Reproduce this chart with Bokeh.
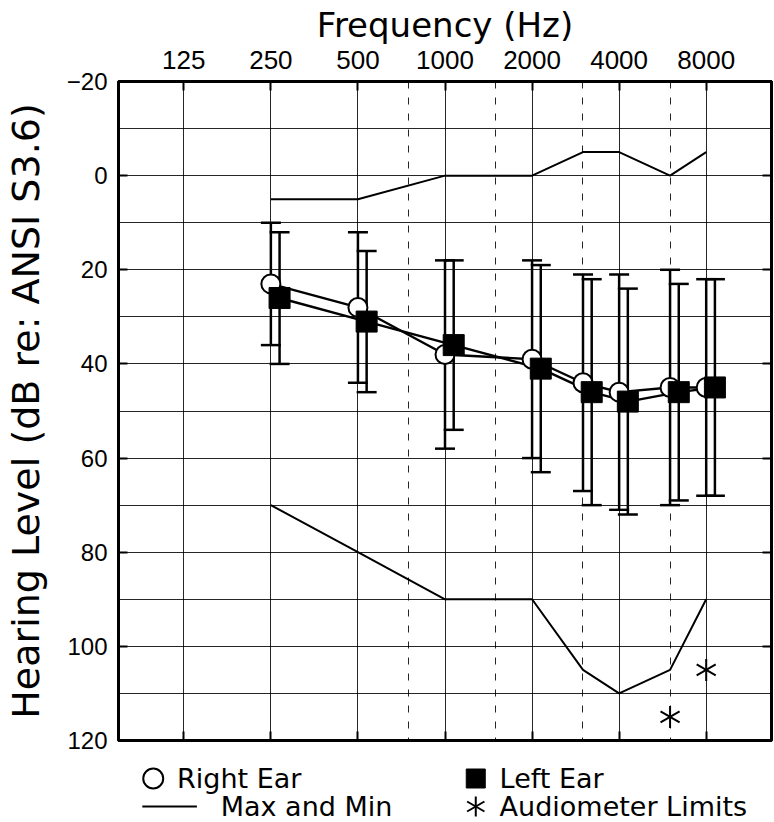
import numpy as np
from bokeh.plotting import figure
from bokeh.models import (Range1d, FixedTicker, LinearAxis, LogAxis, Grid,
                          Whisker, ColumnDataSource, TeeHead, PrintfTickFormatter)
from bokeh.layouts import column
from bokeh.embed import file_html
from bokeh.resources import INLINE
from bokeh.core.properties import value

# ---------------- data ----------------
freqs = [250, 500, 1000, 2000, 3000, 4000, 6000, 8000]
right_ear = [23, 28, 38, 39, 44, 46, 45, 45]
right_upper = [10, 12, 18, 18, 21, 21, 20, 22]
right_lower = [36, 44, 58, 60, 67, 71, 70, 68]
left_ear = [26, 31, 36, 41, 46, 48, 46, 45]
left_upper = [12, 16, 18, 19, 22, 24, 23, 22]
left_lower = [40, 46, 54, 63, 70, 72, 69, 68]
min_level = [5, 5, 0, 0, -5, -5, 0, -5]
max_level = [70, 80, 90, 90, 105, 110, 105, 90]
limit_freqs = [6000, 8000]
limit_levels = [115, 105]
octave_ticks = [125, 250, 500, 1000, 2000, 4000, 8000]
half_octave_lines = [750, 1500, 3000, 6000]
level_ticks = list(range(-20, 121, 20))
level_grid = list(range(-20, 121, 10))
legend_labels = ["Right Ear", "Left Ear", "Max and Min", "Audiometer Limits"]

TICK_FONT = "Liberation Sans"
TEXT_FONT = "DejaVu Sans"

W, H_MAIN, H_LEG = 774, 758, 64
BL, BR = 113, 3

# small horizontal offset (in octaves) of the left-ear symbols
left_x = list(np.array(freqs) * 2 ** 0.1)

x_lo = octave_ticks[0] / 2 ** 0.75
x_hi = octave_ticks[-1] * 2 ** 0.75

p = figure(width=W, height=H_MAIN, x_axis_type="log", x_axis_location="above",
           x_range=Range1d(x_lo, x_hi), y_range=Range1d(120, -20),
           output_backend="svg", toolbar_location=None,
           min_border_left=BL, min_border_right=BR, min_border_top=81,
           min_border_bottom=H_MAIN - 740)
p.outline_line_color = "black"
p.outline_line_width = 3
p.background_fill_color = "white"
p.border_fill_color = "white"

# top axis
xa = p.xaxis[0]
xa.ticker = FixedTicker(ticks=octave_ticks, minor_ticks=[])
xa.formatter = PrintfTickFormatter(format="%d")
xa.axis_label = "Frequency (Hz)"
xa.axis_label_text_font = TEXT_FONT
xa.axis_label_text_font_size = "34px"
xa.axis_label_text_font_style = "normal"
xa.axis_label_text_color = "black"
xa.axis_label_standoff = 3
xa.major_label_text_font = TICK_FONT
xa.major_label_text_font_size = "26px"
xa.major_label_text_color = "black"
xa.major_label_standoff = 13
xa.major_tick_in = 9
xa.major_tick_out = 0
xa.major_tick_line_width = 2
xa.minor_tick_line_color = None
xa.axis_line_width = 3

# left axis
ya = p.yaxis[0]
ya.ticker = FixedTicker(ticks=level_ticks, minor_ticks=[])
ya.major_label_overrides = {-20: "\u221220"}
ya.axis_label = "Hearing Level (dB re: ANSI S3.6)"
ya.axis_label_text_font = TEXT_FONT
ya.axis_label_text_font_size = "38px"
ya.axis_label_text_font_style = "normal"
ya.axis_label_text_color = "black"
ya.axis_label_standoff = 16
ya.major_label_text_font = TICK_FONT
ya.major_label_text_font_size = "24px"
ya.major_label_text_color = "black"
ya.major_label_standoff = 11
ya.major_tick_in = 9
ya.major_tick_out = 0
ya.major_tick_line_width = 2
ya.minor_tick_line_color = None
ya.axis_line_width = 3

# bottom & right axes: inward ticks only, no labels
bx = LogAxis(ticker=FixedTicker(ticks=octave_ticks, minor_ticks=[]),
             major_label_text_font_size="1px", major_label_text_color=None,
             major_label_standoff=0,
             major_tick_in=9, major_tick_out=0, major_tick_line_width=2,
             minor_tick_line_color=None, axis_line_width=3)
p.add_layout(bx, "below")
ry = LinearAxis(ticker=FixedTicker(ticks=level_ticks, minor_ticks=[]),
                major_label_text_font_size="1px", major_label_text_color=None,
                major_label_standoff=0,
                major_tick_in=9, major_tick_out=0, major_tick_line_width=2,
                minor_tick_line_color=None, axis_line_width=3)
p.add_layout(ry, "right")

# grids
p.xgrid.ticker = FixedTicker(ticks=octave_ticks, minor_ticks=[])
p.xgrid.grid_line_color = "black"
p.xgrid.grid_line_alpha = 0.85
p.xgrid.grid_line_width = 1
p.ygrid.ticker = FixedTicker(ticks=level_grid, minor_ticks=[])
p.ygrid.grid_line_color = "black"
p.ygrid.grid_line_alpha = 0.85
p.ygrid.grid_line_width = 1
dash_grid = Grid(dimension=0, ticker=FixedTicker(ticks=half_octave_lines, minor_ticks=[]),
                 grid_line_color="black", grid_line_alpha=0.85, grid_line_width=1,
                 grid_line_dash="7 9")
p.add_layout(dash_grid)

# max / min lines
p.line(freqs, min_level, line_color="black", line_width=2)
p.line(freqs, max_level, line_color="black", line_width=2)

# error bars
src_r = ColumnDataSource(dict(x=freqs, y=right_ear, upper=right_upper, lower=right_lower))
src_l = ColumnDataSource(dict(x=left_x, y=left_ear, upper=left_upper, lower=left_lower))
for src in (src_r, src_l):
    w = Whisker(source=src, base="x", upper="upper", lower="lower", dimension="height",
                line_color="black", line_width=2.5,
                upper_head=TeeHead(size=20, line_width=2.5, line_color="black"),
                lower_head=TeeHead(size=20, line_width=2.5, line_color="black"))
    p.add_layout(w)

# ear data
p.line(freqs, right_ear, line_color="black", line_width=2.4)
p.line(left_x, left_ear, line_color="black", line_width=2.4)
p.scatter(freqs, right_ear, marker="circle", size=19, fill_color="white",
          line_color="black", line_width=2)
p.scatter(left_x, left_ear, marker="square", size=21, fill_color="black",
          line_color="black")

# audiometer limits (six-armed asterisk)
for ang in (90, 30, -30):
    p.scatter(limit_freqs, limit_levels, marker="dash", size=22, angle=ang,
              angle_units="deg", line_color="black", line_width=2)

# ---------------- legend (page-pixel x coordinates) ----------------
leg = figure(width=W, height=H_LEG, x_range=Range1d(BL, W - BR), y_range=Range1d(H_LEG, 0),
             output_backend="svg", toolbar_location=None,
             min_border_left=BL, min_border_right=BR, min_border_top=0, min_border_bottom=0,
             x_axis_type=None, y_axis_type=None)
leg.outline_line_color = None
leg.background_fill_color = "white"
leg.border_fill_color = "white"

row1, row2 = 20, 48
leg.scatter([148], [row1], marker="circle", size=20, fill_color="white",
            line_color="black", line_width=2)
leg.scatter([473], [row1], marker="square", size=19, fill_color="black", line_color="black")
leg.line([137, 192], [row2, row2], line_color="black", line_width=2)
for ang in (90, 30, -30):
    leg.scatter([473], [row2], marker="dash", size=20, angle=ang, angle_units="deg",
                line_color="black", line_width=2)
leg.text(x=[172, 497, 216, 497], y=[row1, row1, row2, row2], text=legend_labels,
         text_font=value(TEXT_FONT), text_font_size="27px", text_align="left",
         text_baseline="middle", text_color="black")

layout = column(p, leg)
open("out.html", "w").write(file_html(layout, INLINE))
